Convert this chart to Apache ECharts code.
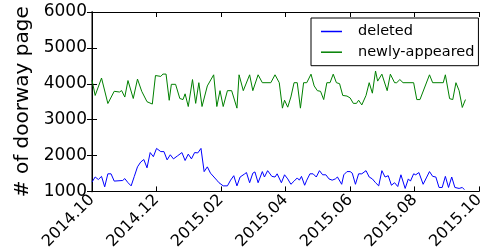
<!DOCTYPE html>
<html>
<head>
<meta charset="utf-8">
<script src="https://cdn.jsdelivr.net/npm/echarts@6/dist/echarts.min.js"></script>
<style>
  html, body { margin: 0; padding: 0; background: #fff; }
  #chart { width: 487px; height: 252px; }
</style>
</head>
<body>
<div id="chart"></div>
<script>
// x positions are sample positions along the axis (one tick every 61)
var tickLabels = ['2014.10', '2014.12', '2015.02', '2015.04', '2015.06', '2015.08', '2015.10'];

var deletedX = [0, 3, 6, 9, 12, 15, 18, 21, 29, 31, 34, 37, 40, 43, 46, 49, 52, 55, 58, 61,
    65, 68, 71, 74, 77, 81, 85, 88, 91, 94, 97, 100, 103, 106, 109, 112, 118, 120, 124, 128,
    131, 134, 137, 140, 144, 146, 149, 152, 154, 157, 161, 163, 166, 170, 173, 175, 179, 182, 185, 188,
    191, 194, 196, 198, 201, 203, 206, 209, 212, 215, 218, 221, 224, 227, 230, 232, 236, 238, 241, 244,
    246, 249, 252, 255, 259, 262, 265, 268, 271, 274, 277, 280, 283, 286, 289, 292, 296, 299, 301, 304,
    306, 309, 313, 316, 319, 322, 325, 328, 331, 334, 337, 340, 343, 347, 350, 352];
var deletedY = [1260, 1403, 1332, 1420, 1128, 1491, 1491, 1288, 1305, 1358, 1244, 1155, 1420, 1685, 1818, 1889, 1658, 2083, 1968, 2199,
    2110, 2110, 1880, 2021, 1907, 1995, 2083, 1862, 2040, 1907, 2083, 2074, 2199, 1552, 1685, 1509, 1313, 1243, 1155, 1155,
    1314, 1438, 1155, 1402, 1482, 1526, 1243, 1509, 1544, 1243, 1553, 1402, 1579, 1420, 1402, 1491, 1243, 1464, 1349, 1199,
    1287, 1376, 1314, 1420, 1172, 1314, 1491, 1491, 1402, 1579, 1464, 1464, 1349, 1314, 1349, 1402, 1199, 1464, 1553, 1553,
    1509, 1199, 1491, 1491, 1579, 1402, 1349, 1243, 1155, 1579, 1402, 1438, 1172, 1243, 1137, 1464, 1084, 1349, 1287, 1491,
    1464, 1526, 1199, 1376, 1553, 1420, 1402, 1111, 1111, 1420, 1111, 1402, 1111, 1084, 1111, 1049];

var appearedX = [0, 3, 9, 15, 21, 26, 28, 31, 34, 39, 43, 47, 52, 57, 60, 65, 67, 70, 73, 75,
    79, 83, 86, 88, 91, 95, 98, 101, 104, 109, 115, 118, 121, 124, 128, 132, 137, 139, 143, 149,
    152, 157, 161, 169, 173, 177, 180, 182, 185, 188, 191, 194, 197, 200, 203, 207, 210, 213, 216, 219,
    222, 225, 228, 231, 234, 237, 241, 244, 247, 250, 252, 255, 259, 262, 265, 268, 270, 274, 279, 282,
    286, 288, 291, 294, 304, 307, 310, 319, 322, 332, 334, 338, 341, 344, 347, 350, 353];
var appearedY = [4100, 3675, 4160, 3450, 3790, 3770, 3810, 3630, 4090, 3590, 4130, 3790, 3500, 3435, 4230, 4205, 4270, 4270, 3540, 3985,
    3985, 3590, 3560, 3720, 3366, 4117, 3454, 4030, 3366, 3940, 4250, 3366, 3808, 3366, 3808, 3808, 3321, 4250, 3808, 4250,
    3808, 4250, 4030, 4030, 4250, 4030, 3321, 3542, 3348, 3632, 4030, 4030, 3321, 4030, 4030, 4268, 3940, 3808, 3790, 3560,
    4030, 4030, 4268, 4030, 4003, 3675, 3658, 3605, 3454, 3454, 3542, 3410, 3675, 4030, 3738, 4356, 4074, 4268, 3808, 4268,
    4030, 4030, 4117, 4030, 4030, 3560, 3560, 4250, 4030, 4030, 4250, 3586, 3560, 4030, 3808, 3340, 3560];

function pairs(xs, ys) {
    return xs.map(function (x, i) { return [x, ys[i]]; });
}

var font = 'DejaVu Sans';
var chart = echarts.init(document.getElementById('chart'));

var tickStyle = { show: true, inside: true, length: 5, lineStyle: { color: '#000', width: 1 } };

var option = {
    animation: false,
    backgroundColor: '#fff',
    grid: { left: 92, top: 12, width: 394, height: 188.5 },
    legend: {
        orient: 'vertical',
        left: 311,
        top: 18,
        padding: [6, 4, 6, 10],
        itemWidth: 21,
        itemHeight: 1.5,
        itemGap: 5.7,
        icon: 'rect',
        borderColor: '#000',
        borderWidth: 1,
        borderRadius: 0,
        backgroundColor: '#fff',
        textStyle: { fontFamily: font, fontSize: 14.5, lineHeight: 15, color: '#000', padding: [0, 0, 0, 11] },
        data: ['deleted', 'newly-appeared']
    },
    xAxis: [
        {
            type: 'value',
            min: 0, max: 366, interval: 61,
            axisLine: { lineStyle: { color: '#000', width: 1 } },
            axisTick: tickStyle,
            splitLine: { show: false },
            axisLabel: {
                rotate: 45,
                margin: 6,
                fontFamily: font,
                fontSize: 16,
                color: '#000',
                formatter: function (v) { return tickLabels[Math.round(v / 61)]; }
            }
        },
        {
            type: 'value',
            position: 'top',
            min: 0, max: 366, interval: 61,
            axisLine: { lineStyle: { color: '#000', width: 1 } },
            axisTick: tickStyle,
            splitLine: { show: false },
            axisLabel: { show: false }
        }
    ],
    yAxis: [
        {
            type: 'value',
            min: 1000, max: 6000, interval: 1000,
            name: '# of doorway page',
            nameLocation: 'middle',
            nameGap: 40,
            nameTextStyle: { fontFamily: font, fontSize: 20, color: '#000' },
            axisLine: { show: true, lineStyle: { color: '#808080', width: 2 } },
            axisTick: tickStyle,
            splitLine: { show: false },
            axisLabel: {
                margin: 5, fontFamily: font, fontSize: 17, color: '#000',
                formatter: function (v) { return String(v); }
            }
        },
        {
            type: 'value',
            position: 'right',
            min: 1000, max: 6000, interval: 1000,
            axisLine: { show: true, lineStyle: { color: '#000', width: 1 } },
            axisTick: tickStyle,
            splitLine: { show: false },
            axisLabel: { show: false }
        }
    ],
    series: [
        {
            name: 'deleted',
            type: 'line',
            data: pairs(deletedX, deletedY),
            showSymbol: false,
            symbol: 'none',
            itemStyle: { color: '#0000ff' },
            lineStyle: { color: '#0000ff', width: 1 }
        },
        {
            name: 'newly-appeared',
            type: 'line',
            data: pairs(appearedX, appearedY),
            showSymbol: false,
            symbol: 'none',
            itemStyle: { color: '#008000' },
            lineStyle: { color: '#008000', width: 1 }
        }
    ]
};

chart.setOption(option);
</script>
</body>
</html>
